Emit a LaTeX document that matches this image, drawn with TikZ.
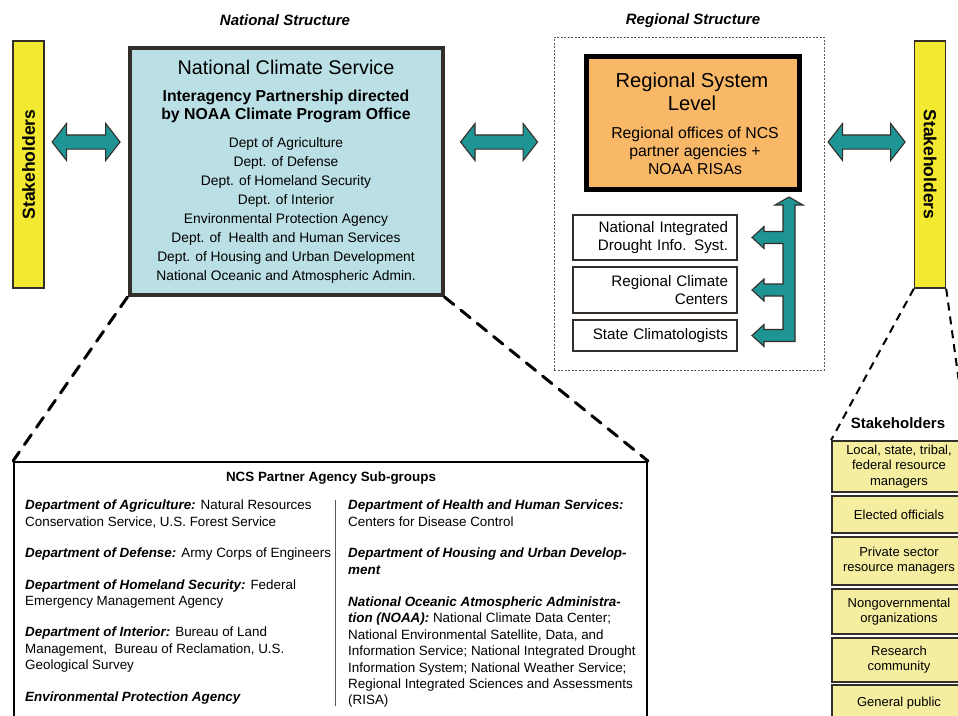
\documentclass[tikz,border=0pt]{standalone}
\usepackage{fontspec}
\setmainfont{Liberation Sans}
\usetikzlibrary{positioning,shapes.arrows,calc}
\definecolor{ncsBlue}{RGB}{186,223,228}
\definecolor{rsOrange}{RGB}{249,184,104}
\definecolor{stYellow}{RGB}{243,233,48}
\definecolor{stPale}{RGB}{245,238,160}
\definecolor{arrTeal}{RGB}{30,148,148}
\definecolor{edgeDark}{RGB}{52,46,42}
\newcommand\fsStruct{\fontsize{15}{18}\selectfont\bfseries\itshape}
\newcommand\fsNcs{\fontsize{19.8}{23}\selectfont}
\newcommand\fsNcsSub{\fontsize{15.8}{18}\selectfont\bfseries}
\newcommand\fsNcsList{\fontsize{13.8}{19}\selectfont}
\newcommand\fsReg{\fontsize{20.2}{23}\selectfont}
\newcommand\fsRegSub{\fontsize{15.8}{18}\selectfont}
\newcommand\fsSmall{\fontsize{15.2}{18.5}\selectfont}
\newcommand\fsBar{\fontsize{17.5}{20}\selectfont\bfseries}
\newcommand\fsSt{\fontsize{13}{15.2}\selectfont}
\newcommand\fsSub{\fontsize{13.4}{16.4}\selectfont}
\newcommand\bi[1]{\textbf{\textit{#1}}}

\begin{document}
\begin{tikzpicture}[x=1pt, y=-1pt, inner sep=0pt,
  bar/.style={draw=edgeDark, line width=1.4pt, fill=stYellow, minimum width=31pt, minimum height=247pt},
  dblarr/.style={double arrow, draw=edgeDark, fill=arrTeal, line width=1.1pt, inner xsep=0pt, inner ysep=6.5pt,
    minimum width=36pt, double arrow head extend=11.5pt, double arrow tip angle=104},
  smallbox/.style={draw=edgeDark, line width=1.4pt, fill=white, minimum width=164pt, text width=146pt,
    align=right, font=\fsSmall},
  stbox/.style={draw=edgeDark, line width=1.8pt, fill=stPale, minimum width=134pt, align=center, font=\fsSt},
  zoomdash/.style={line width=3pt, dash pattern=on 12pt off 9pt, line cap=round}]
\useasboundingbox (0,0) rectangle (958,715);
\clip (0,0) rectangle (958,715);
% national structure
\node[font=\fsStruct] (natlab) at (285,20) {National Structure};
\node[bar] (lbar) at (28.5,164.5) {};
\node[rotate=90, font=\fsBar] (lbartxt) at (lbar) {Stakeholders};
\node[draw=edgeDark, line width=4pt, fill=ncsBlue, minimum width=313pt, minimum height=247pt] (ncs) at (286,171.5) {};
\node[font=\fsNcs] (ncsname) at (286,67) {National Climate Service};
\node[font=\fsNcsSub, align=center] (ncssub) at (286,106) {Interagency Partnership directed\\by NOAA Climate Program Office};
\node[font=\fsNcsList, align=center] (ncslist) at (286,210.5) {Dept of Agriculture\\Dept. of Defense\\Dept. of Homeland Security\\Dept. of Interior\\Environmental Protection Agency\\Dept. of\ \ Health and Human Services\\Dept. of Housing and Urban Development\\National Oceanic and Atmospheric Admin.};
% regional structure
\node[font=\fsStruct] (reglab) at (693,21) {Regional Structure};
\node[draw=edgeDark!80, line width=0.8pt, dash pattern=on 2pt off 1.5pt, minimum width=270pt, minimum height=333pt] (regframe) at (689,203.5) {};
\node[draw=black, line width=5pt, fill=rsOrange, minimum width=213pt, minimum height=133pt] (rsbox) at (693,123) {};
\node[font=\fsReg, align=center] (rsname) at (692,91.5) {Regional System\\Level};
\node[font=\fsRegSub, align=center] (rstext) at (695,151) {Regional offices of NCS\\partner agencies +\\NOAA RISAs};
\node[smallbox, minimum height=45pt] (nidis) at (655,237.5) {National Integrated\\Drought Info. Syst.};
\node[smallbox, minimum height=46pt] (rcc) at (655,290) {Regional Climate\\Centers};
\node[smallbox, minimum height=31pt] (sclim) at (655,335.5) {State Climatologists};
\node[bar] (rbar) at (930,164.5) {};
\node[rotate=-90, font=\fsBar] (rbartxt) at (rbar) {Stakeholders};
% block arrows
\node[dblarr, minimum height=68pt] (arrl) at ($(lbar.east)!0.5!(ncs.west)+(0,-26)$) {};
\node[dblarr, minimum height=77pt] (arrm) at ($(ncs.east)!0.5!(regframe.west)+(0,-45.5)$) {};
\node[dblarr, minimum height=77pt] (arrr) at ($(regframe.east)!0.5!(rbar.west)+(-2.5,-42)$) {};
\draw[draw=edgeDark, fill=arrTeal, line width=1.1pt, line join=miter]
  (789,197) -- (803,205) -- (795,205)
  -- ($(795,0 |- sclim.east)+(0,6)$) -- ($(764,0 |- sclim.east)+(0,6)$) -- ++(0,5) -- ++(-12,-11) -- ++(12,-11) -- ++(0,5)
  -- ($(783,0 |- sclim.east)+(0,-6)$) -- ($(783,0 |- rcc.east)+(0,6)$)
  -- ($(764,0 |- rcc.east)+(0,6)$) -- ++(0,5) -- ++(-12,-11) -- ++(12,-11) -- ++(0,5)
  -- ($(783,0 |- rcc.east)+(0,-6)$) -- ($(783,0 |- nidis.east)+(0,6)$)
  -- ($(764,0 |- nidis.east)+(0,6)$) -- ++(0,5) -- ++(-12,-11) -- ++(12,-11) -- ++(0,5)
  -- ($(783,0 |- nidis.east)+(0,-6)$) -- (783,205) -- (775,205) -- cycle;
% partner agency sub-groups
\node[draw=black, line width=2pt, fill=white, minimum width=633pt, minimum height=262pt] (sub) at (330.5,593) {};
\node[font=\fsSub\bfseries] (subttl) at (331,478) {NCS Partner Agency Sub-groups};
\draw[edgeDark!80, line width=1pt] (335,500) coordinate (divtop) -- (335,706) coordinate (divbot);
\node[font=\fsSub, align=left, anchor=north west] (subleft) at (25,500) {%
  \bi{Department of Agriculture:} Natural Resources\\Conservation Service, U.S. Forest Service\\[15pt]
  \bi{Department of Defense:} Army Corps of Engineers\\[15pt]
  \bi{Department of Homeland Security:} Federal\\Emergency Management Agency\\[15pt]
  \bi{Department of Interior:} Bureau of Land\\Management,\ \ Bureau of Reclamation, U.S.\\Geological Survey\\[15pt]
  \bi{Environmental Protection Agency}};
\node[font=\fsSub, align=left, anchor=north west] (subright) at (348,500) {%
  \bi{Department of Health and Human Services:}\\Centers for Disease Control\\[15pt]
  \bi{Department of Housing and Urban Develop-}\\\bi{ment}\\[16pt]
  \bi{National Oceanic Atmospheric Administra-}\\\bi{tion (NOAA):} National Climate Data Center;\\National Environmental Satellite, Data, and\\Information Service; National Integrated Drought\\Information System; National Weather Service;\\Regional Integrated Sciences and Assessments\\(RISA)};
\draw[zoomdash] (ncs.south west) -- (sub.north west);
\draw[zoomdash] (ncs.south east) -- (sub.north east);
% stakeholder groups
\node[font=\fontsize{15}{18}\selectfont\bfseries] (stlab) at (898,423) {Stakeholders};
\node[stbox, minimum height=51pt] (st1) at (899,466.5) {Local, state, tribal,\\federal resource\\managers};
\node[stbox, minimum height=37pt] (st2) at (899,514.5) {Elected officials};
\node[stbox, minimum height=48pt] (st3) at (899,561) {Private sector\\resource managers};
\node[stbox, minimum height=45pt] (st4) at (899,611.5) {Nongovernmental\\organizations};
\node[stbox, minimum height=44pt] (st5) at (899,660) {Research\\community};
\node[stbox, minimum height=36pt] (st6) at (899,703) {General public};
\draw[line width=2pt, dash pattern=on 8pt off 6pt] (rbar.south west) -- (st1.north west);
\draw[line width=2pt, dash pattern=on 8pt off 6pt] (rbar.south east) -- (st1.north east);
\end{tikzpicture}
\end{document}
